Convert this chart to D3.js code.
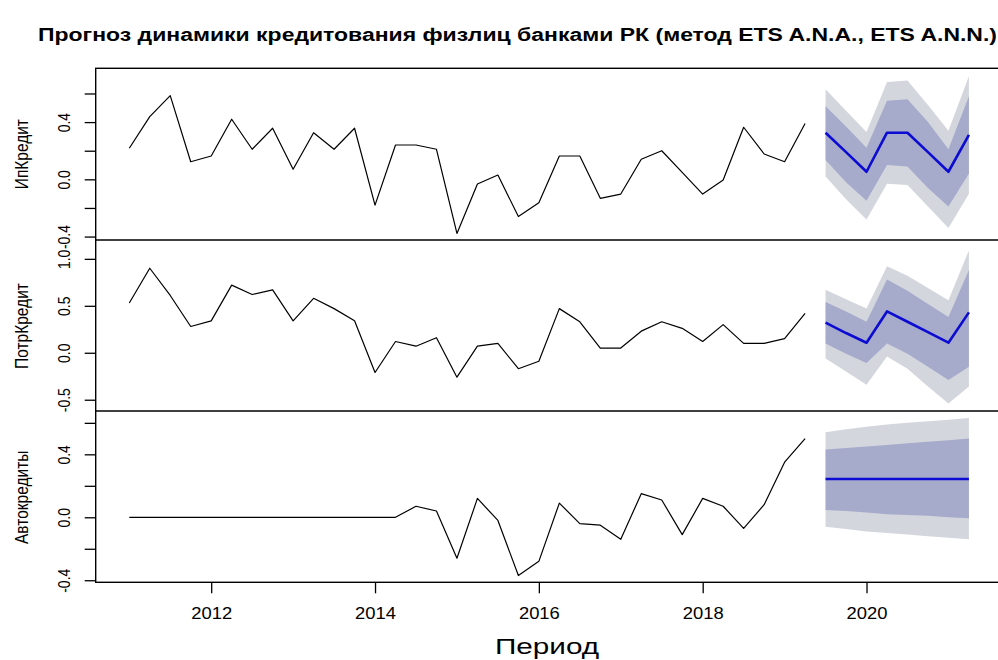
<!DOCTYPE html>
<html>
<head>
<meta charset="utf-8">
<script src="https://cdn.jsdelivr.net/npm/d3@7"></script>
<style>
	body { margin: 0; background: #fff; }
	text { font-family: "Liberation Sans", Arial, sans-serif; fill: #000; }
</style>
</head>
<body>
<div id="chart-container"></div>
<script>
// quarters 2011Q1 .. 2019Q2 (actual), 2019Q3 .. 2021Q2 (forecast)
var hist_start = 2011.0;
var fc_start = 2019.5;

var ip_actual = [0.217, 0.438, 0.585, 0.123, 0.163, 0.42, 0.21, 0.357, 0.07, 0.326, 0.21, 0.357,
	-0.18, 0.24, 0.24, 0.21, -0.378, -0.033, 0.03, -0.26, -0.163, 0.163, 0.163, -0.133,
	-0.103, 0.14, 0.2, 0.049, -0.103, -0.005, 0.364, 0.177, 0.123, 0.39];
var ip_mean = [0.326, 0.19, 0.053, 0.326, 0.326, 0.19, 0.053, 0.31];
var ip_hi95 = [0.63, 0.48, 0.33, 0.68, 0.69, 0.52, 0.34, 0.72];
var ip_hi80 = [0.51, 0.37, 0.22, 0.55, 0.56, 0.40, 0.21, 0.58];
var ip_lo80 = [0.135, -0.02, -0.15, 0.10, 0.09, -0.06, -0.19, 0.04];
var ip_lo95 = [0.02, -0.14, -0.28, -0.03, -0.04, -0.19, -0.34, -0.10];

var potr_actual = [0.53, 0.90, 0.61, 0.28, 0.34, 0.72, 0.62, 0.67, 0.34, 0.58, 0.47, 0.34,
	-0.21, 0.12, 0.07, 0.16, -0.26, 0.07, 0.10, -0.17, -0.09, 0.47, 0.33, 0.05,
	0.05, 0.23, 0.33, 0.26, 0.12, 0.30, 0.10, 0.10, 0.15, 0.42];
var potr_mean = [0.32, 0.21, 0.107, 0.44, 0.33, 0.22, 0.107, 0.43];
var potr_hi95 = [0.67, 0.57, 0.47, 0.92, 0.82, 0.69, 0.56, 1.09];
var potr_hi80 = [0.54, 0.44, 0.33, 0.78, 0.66, 0.52, 0.38, 0.88];
var potr_lo80 = [0.10, -0.01, -0.11, 0.10, -0.01, -0.15, -0.29, -0.15];
var potr_lo95 = [-0.06, -0.20, -0.34, -0.04, -0.17, -0.36, -0.54, -0.36];

var avto_actual = [0, 0, 0, 0, 0, 0, 0, 0, 0, 0, 0, 0,
	0, 0, 0.07, 0.04, -0.26, 0.12, -0.02, -0.37, -0.28, 0.09, -0.04, -0.05,
	-0.14, 0.15, 0.11, -0.11, 0.12, 0.07, -0.07, 0.08, 0.35, 0.50];
var avto_mean = [0.243, 0.243, 0.243, 0.243, 0.243, 0.243, 0.243, 0.243];
var avto_hi95 = [0.54, 0.56, 0.575, 0.59, 0.60, 0.61, 0.62, 0.63];
var avto_hi80 = [0.43, 0.44, 0.45, 0.46, 0.47, 0.48, 0.49, 0.50];
var avto_lo80 = [0.046, 0.04, 0.03, 0.02, 0.015, 0.01, 0.0, -0.006];
var avto_lo95 = [-0.06, -0.075, -0.09, -0.10, -0.11, -0.12, -0.13, -0.14];

var x_ticks = [2012, 2014, 2016, 2018, 2020];

var panels = [
	{name: "ИпКредит", actual: ip_actual, mean: ip_mean, hi95: ip_hi95, hi80: ip_hi80, lo80: ip_lo80, lo95: ip_lo95,
		domain: [-0.424, 0.776], top: 68.3, bottom: 240, ticks: [-0.4, -0.2, 0, 0.2, 0.4, 0.6], labels: [-0.4, 0, 0.4]},
	{name: "ПотрКредит", actual: potr_actual, mean: potr_mean, hi95: potr_hi95, hi80: potr_hi80, lo80: potr_lo80, lo95: potr_lo95,
		domain: [-0.62, 1.19], top: 241, bottom: 411, ticks: [-0.5, 0, 0.5, 1.0], labels: [-0.5, 0, 0.5, 1.0]},
	{name: "Автокредиты", actual: avto_actual, mean: avto_mean, hi95: avto_hi95, hi80: avto_hi80, lo80: avto_lo80, lo95: avto_lo95,
		domain: [-0.413, 0.667], top: 412.3, bottom: 582.3, ticks: [-0.4, -0.2, 0, 0.2, 0.4, 0.6], labels: [-0.4, 0, 0.4]}
];

var svg_width = 998;
var svg_height = 660;
var plot_left = 95.7;
var plot_right = 1002.5;
var sx = 1.15; // horizontal stretch of glyphs in the original image

var svg = d3.select("#chart-container")
	.append("svg")
	.attr("width", svg_width)
	.attr("height", svg_height);

var x = d3.scaleLinear()
	.domain([2010.59, 2021.66])
	.range([plot_left, plot_right]);

var col_light = "#d4d6de";
var col_dark = "#a6aacb";
var col_mean = "#0b0bd2";

function fmt(d) { return d.toFixed(1); }

panels.forEach(function(p) {
	var y = d3.scaleLinear()
		.domain(p.domain)
		.range([p.bottom, p.top]);

	var g = svg.append("g");

	var hist = p.actual.map(function(v, i) { return {t: hist_start + i * 0.25, v: v}; });
	var fc = p.mean.map(function(v, i) {
		return {t: fc_start + i * 0.25, v: v, hi95: p.hi95[i], hi80: p.hi80[i], lo80: p.lo80[i], lo95: p.lo95[i]};
	});

	var area95 = d3.area()
		.x(function(d) { return x(d.t); })
		.y0(function(d) { return y(d.lo95); })
		.y1(function(d) { return y(d.hi95); });
	var area80 = d3.area()
		.x(function(d) { return x(d.t); })
		.y0(function(d) { return y(d.lo80); })
		.y1(function(d) { return y(d.hi80); });
	var line = d3.line()
		.x(function(d) { return x(d.t); })
		.y(function(d) { return y(d.v); });

	g.append("path").datum(fc).attr("d", area95).attr("fill", col_light);
	g.append("path").datum(fc).attr("d", area80).attr("fill", col_dark);

	g.append("path").datum(hist)
		.attr("d", line)
		.attr("fill", "none")
		.attr("stroke", "#000")
		.attr("stroke-width", 1.2)
		.attr("stroke-linejoin", "round");

	g.append("path").datum(fc)
		.attr("d", line)
		.attr("fill", "none")
		.attr("stroke", col_mean)
		.attr("stroke-width", 2.6)
		.attr("stroke-linejoin", "round");

	// y axis
	var ax = g.append("g")
		.attr("transform", "translate(" + plot_left + ",0)")
		.call(d3.axisLeft(y)
			.tickValues(p.ticks)
			.tickSize(11)
			.tickPadding(0)
			.tickFormat(function(d) { return p.labels.indexOf(d) >= 0 ? fmt(d) : ""; }));
	ax.select(".domain").remove();
	ax.selectAll("line").attr("stroke", "#000").attr("stroke-width", 1.3);
	ax.selectAll("text")
		.attr("x", null).attr("dy", null)
		.attr("text-anchor", "middle")
		.attr("font-size", 14)
		.attr("font-family", "Liberation Sans, Arial, sans-serif")
		.attr("transform", "translate(-25.5,0) scale(" + sx + ",1) rotate(-90)");

	// panel title
	g.append("text")
		.attr("transform", "translate(27.5," + ((p.top + p.bottom) / 2) + ") scale(" + sx + ",1) rotate(-90)")
		.attr("text-anchor", "middle")
		.attr("font-size", 15.5)
		.text(p.name);
});

// frame
var frame = svg.append("g")
	.attr("fill", "none")
	.attr("stroke", "#000")
	.attr("stroke-width", 1.4);
frame.append("rect")
	.attr("x", plot_left).attr("y", panels[0].top)
	.attr("width", plot_right - plot_left)
	.attr("height", panels[2].bottom - panels[0].top);
[panels[0].bottom, panels[1].bottom].forEach(function(yy) {
	frame.append("line")
		.attr("x1", plot_left).attr("x2", plot_right)
		.attr("y1", yy).attr("y2", yy);
});

// x axis
var xa = svg.append("g")
	.attr("transform", "translate(0," + panels[2].bottom + ")")
	.call(d3.axisBottom(x)
		.tickValues(x_ticks)
		.tickSize(11)
		.tickPadding(0)
		.tickFormat(d3.format("d")));
xa.select(".domain").remove();
xa.selectAll("line").attr("stroke", "#000").attr("stroke-width", 1.3);
xa.selectAll("text")
	.attr("y", null).attr("dy", null)
	.attr("font-size", 16)
	.attr("font-family", "Liberation Sans, Arial, sans-serif")
	.attr("transform", "translate(0,37) scale(" + sx + ",1)");

svg.append("text")
	.attr("transform", "translate(547,654) scale(1.35,1)")
	.attr("text-anchor", "middle")
	.attr("font-size", 22)
	.text("Период");

svg.append("text")
	.attr("x", 38)
	.attr("y", 41)
	.attr("font-size", 18)
	.attr("font-weight", "bold")
	.attr("textLength", 959)
	.attr("lengthAdjust", "spacingAndGlyphs")
	.text("Прогноз динамики кредитования физлиц банками РК (метод  ETS A.N.A., ETS A.N.N.)");
</script>
</body>
</html>
